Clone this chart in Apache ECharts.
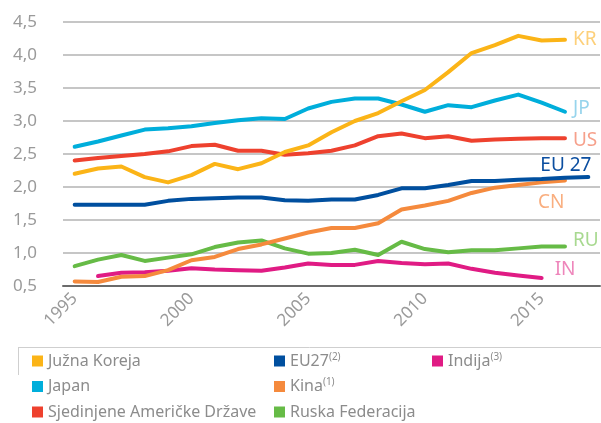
<!DOCTYPE html>
<html>
<head>
<meta charset="utf-8">
<script src="https://cdn.jsdelivr.net/npm/echarts@6/dist/echarts.min.js"></script>
<style>
  html, body { margin: 0; padding: 0; background: #fff; }
  #chart { width: 601px; height: 423px; }
</style>
</head>
<body>
<div id="chart"></div>
<script>
// godine
const years = ['1995', '1996', '1997', '1998', '1999', '2000', '2001', '2002', '2003', '2004', '2005',
  '2006', '2007', '2008', '2009', '2010', '2011', '2012', '2013', '2014', '2015', '2016', '2017'];

// vrijednosti po zemljama (ocitano sa slike)
const juznaKoreja = [2.20, 2.28, 2.31, 2.15, 2.07, 2.18, 2.35, 2.27, 2.36, 2.53, 2.63, 2.83, 3.00, 3.12, 3.30, 3.47, 3.74, 4.03, 4.15, 4.29, 4.22, 4.23];
const japan = [2.61, 2.69, 2.78, 2.87, 2.89, 2.92, 2.97, 3.01, 3.04, 3.03, 3.19, 3.29, 3.34, 3.34, 3.25, 3.14, 3.24, 3.21, 3.31, 3.40, 3.28, 3.14];
const sad = [2.40, 2.44, 2.47, 2.50, 2.54, 2.62, 2.64, 2.55, 2.55, 2.49, 2.51, 2.55, 2.63, 2.77, 2.81, 2.74, 2.77, 2.70, 2.72, 2.73, 2.74, 2.74];
const eu27 = [1.73, 1.73, 1.73, 1.73, 1.79, 1.82, 1.83, 1.84, 1.84, 1.80, 1.79, 1.81, 1.81, 1.88, 1.98, 1.98, 2.03, 2.09, 2.09, 2.11, 2.12, 2.14, 2.15];
const kina = [0.57, 0.56, 0.64, 0.65, 0.74, 0.89, 0.94, 1.06, 1.13, 1.22, 1.31, 1.38, 1.38, 1.45, 1.66, 1.72, 1.79, 1.91, 1.99, 2.03, 2.07, 2.10];
const rusija = [0.80, 0.90, 0.97, 0.88, 0.93, 0.98, 1.09, 1.16, 1.19, 1.07, 0.99, 1.00, 1.05, 0.97, 1.17, 1.06, 1.01, 1.04, 1.04, 1.07, 1.10, 1.10];
const indija = [null, 0.65, 0.70, 0.71, 0.73, 0.77, 0.75, 0.74, 0.73, 0.78, 0.84, 0.82, 0.82, 0.88, 0.85, 0.83, 0.84, 0.76, 0.70, 0.66, 0.62];

const yTicks = { min: 0.5, max: 4.5, step: 0.5 };

const font = '"Noto Sans", sans-serif';
const chart = echarts.init(document.getElementById('chart'));

// linija s oznakom na kraju
function makeSeries(name, data, color, label, labelColor, offset, distance) {
  return {
    name: name,
    type: 'line',
    data: data,
    symbol: 'none',
    connectNulls: false,
    itemStyle: { color: color },
    lineStyle: { color: color, width: 4, cap: 'round', join: 'round' },
    endLabel: {
      show: true,
      formatter: label,
      color: labelColor,
      fontSize: 19,
      fontFamily: font,
      distance: distance || 8,
      offset: offset || [0, 0]
    }
  };
}

const legendText = {
  color: '#8c8c8c',
  fontSize: 16,
  fontFamily: font,
  lineHeight: 18,
  rich: {
    s: { fontSize: 10, color: '#8c8c8c', fontFamily: font, verticalAlign: 'top', lineHeight: 10, padding: [0, 0, 8, 0] }
  }
};

function legendFmt(name) {
  if (name === 'EU27') return 'EU27{s|(2)}';
  if (name === 'Kina') return 'Kina{s|(1)}';
  if (name === 'Indija') return 'Indija{s|(3)}';
  return name;
}

function makeLegend(names, left) {
  return {
    data: names,
    orient: 'vertical',
    left: left,
    top: 352,
    icon: 'rect',
    itemWidth: 11,
    itemHeight: 11,
    itemGap: 7.5,
    padding: 0,
    formatter: legendFmt,
    textStyle: legendText,
    selectedMode: false
  };
}

chart.setOption({
  animation: false,
  grid: { left: 63, right: 1, top: 22, bottom: 137 },
  legend: [
    makeLegend(['Južna Koreja', 'Japan', 'Sjedinjene Američke Države'], 32),
    makeLegend(['EU27', 'Kina', 'Ruska Federacija'], 274),
    makeLegend(['Indija'], 432)
  ],
  graphic: [
    { type: 'line', shape: { x1: 18, y1: 347.5, x2: 601, y2: 347.5 }, style: { stroke: '#cfcfcf', lineWidth: 1 } },
    { type: 'line', shape: { x1: 18.5, y1: 347, x2: 18.5, y2: 375 }, style: { stroke: '#cfcfcf', lineWidth: 1 } }
  ],
  xAxis: {
    type: 'category',
    data: years,
    boundaryGap: true,
    axisLine: { lineStyle: { color: '#6b6b6b', width: 2 } },
    axisTick: { inside: true, length: 7, interval: 0, lineStyle: { color: '#8a8a8a', width: 1 } },
    axisLabel: {
      interval: 4,
      rotate: 45,
      margin: 10,
      color: '#9a9a9a',
      fontSize: 17,
      fontFamily: font
    },
    splitLine: { show: false }
  },
  yAxis: {
    type: 'value',
    min: yTicks.min,
    max: yTicks.max,
    interval: yTicks.step,
    axisLine: { show: false },
    axisTick: { show: false },
    axisLabel: {
      margin: 26,
      color: '#9a9a9a',
      fontSize: 17,
      fontFamily: font,
      formatter: function (v) { return v.toFixed(1).replace('.', ','); }
    },
    splitLine: { lineStyle: { color: '#b3b3b3', width: 1.5 } }
  },
  series: [
    makeSeries('Sjedinjene Američke Države', sad, '#ee412e', 'US', '#f6a08b', [0, 2]),
    makeSeries('Japan', japan, '#00aedb', 'JP', '#97d4ec', [0, -3]),
    makeSeries('Južna Koreja', juznaKoreja, '#fbb417', 'KR', '#fdd07a', [0, 0]),
    makeSeries('Indija', indija, '#e01b84', 'IN', '#ee86bb', [8, -8], 5),
    makeSeries('Ruska Federacija', rusija, '#66bb46', 'RU', '#a8d990', [3, -6], 5),
    makeSeries('Kina', kina, '#f58a3d', 'CN', '#f9ae7f', [-32, 22], 5),
    makeSeries('EU27', eu27, '#004f9f', 'EU 27', '#0b4ea0', [-53, -12], 5)
  ]
});
</script>
</body>
</html>
